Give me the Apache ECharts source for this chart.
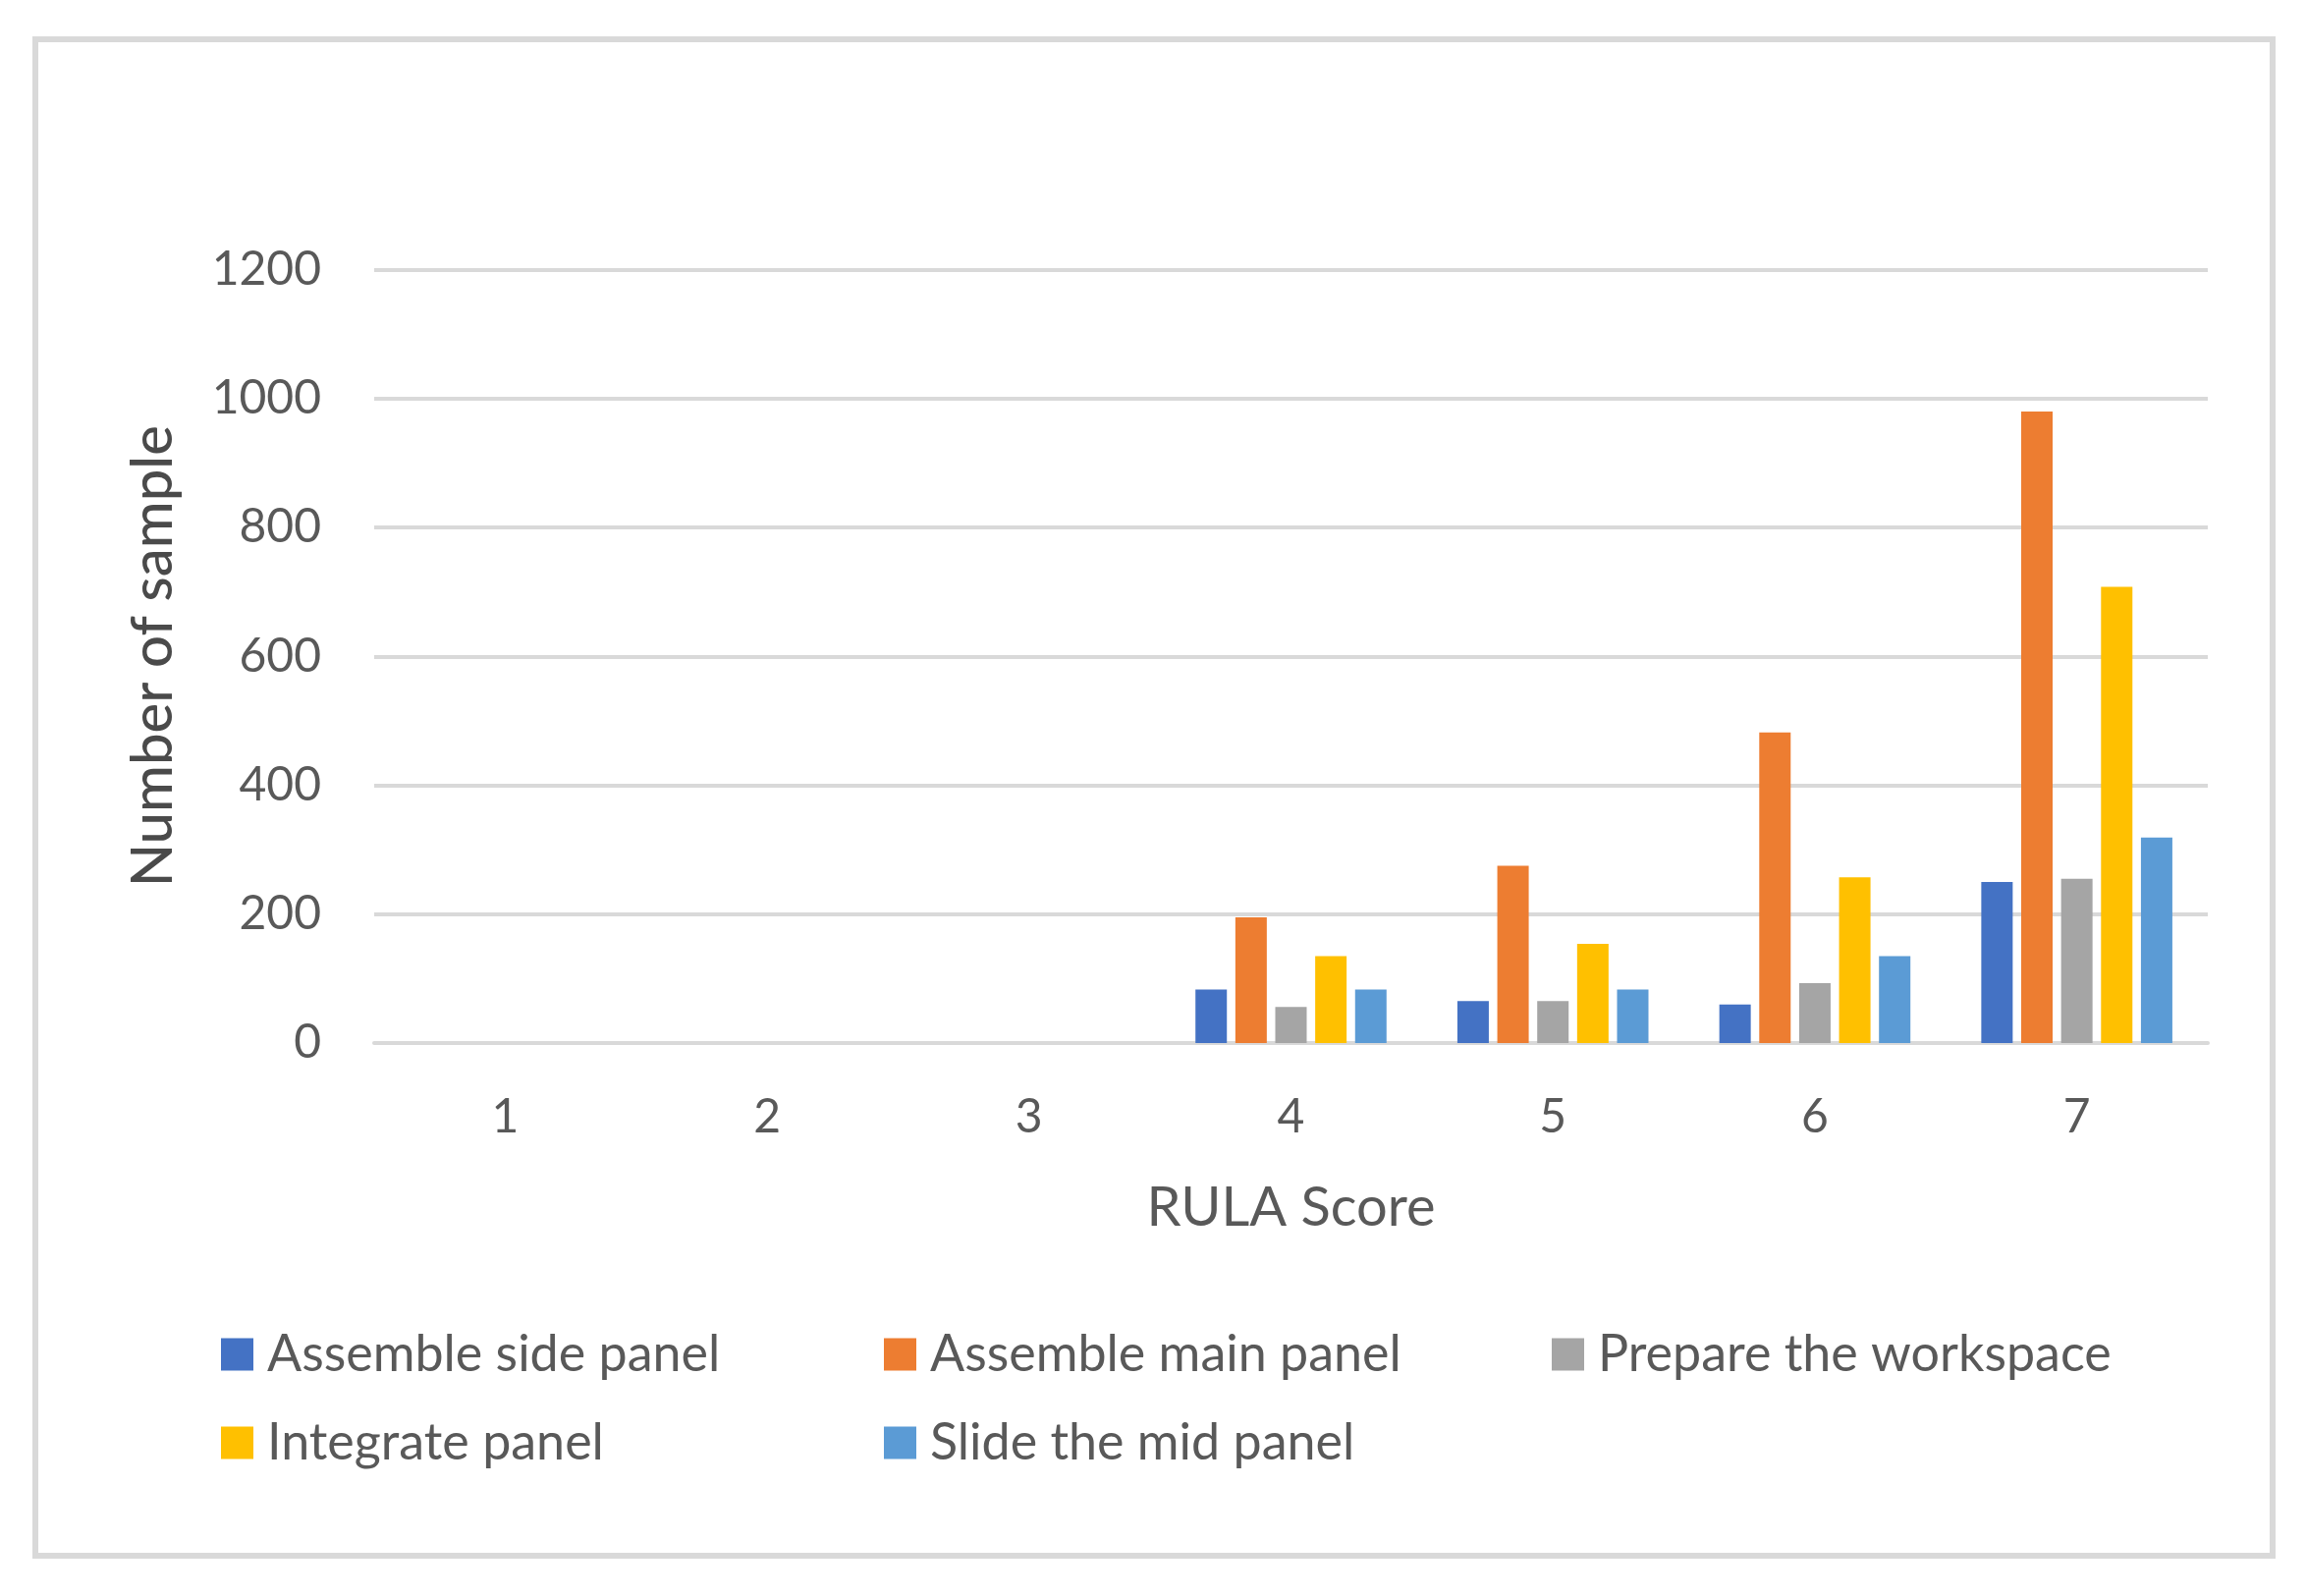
<!DOCTYPE html>
<html>
<head>
<meta charset="utf-8">
<script src="https://cdn.jsdelivr.net/npm/echarts@6/dist/echarts.min.js"></script>
<style>html,body{margin:0;padding:0;background:#fff}#c{width:2348px;height:1625px}</style>
</head>
<body>
<div id="c"></div>
<script>
const categories = ['1', '2', '3', '4', '5', '6', '7'];
const seriesNames = ['Assemble side panel', 'Assemble main panel', 'Prepare the workspace', 'Integrate panel', 'Slide the mid panel'];
const assembleSide = [0, 0, 0, 83, 65, 60, 250];
const assembleMain = [0, 0, 0, 195, 275, 482, 980];
const prepareWorkspace = [0, 0, 0, 56, 65, 93, 255];
const integratePanel = [0, 0, 0, 135, 154, 257, 708];
const slideMid = [0, 0, 0, 83, 83, 135, 319];
const yTicks = [0, 200, 400, 600, 800, 1000, 1200];
const colors = ['#4472C4', '#ED7D31', '#A5A5A5', '#FFC000', '#5B9BD5'];

const FONT = 'Lato';
const TXT = '#595959';
const values = [assembleSide, assembleMain, prepareWorkspace, integratePanel, slideMid];

const legendCommon = {
  orient: 'vertical',
  padding: 0,
  itemWidth: 33,
  itemHeight: 33,
  itemGap: 38,
  icon: 'rect',
  top: 1353,
  textStyle: { fontFamily: FONT, fontSize: 52, color: TXT, padding: [0, 0, 0, 9] }
};

const chart = echarts.init(document.getElementById('c'));
chart.setOption({
  animation: false,
  backgroundColor: '#ffffff',
  color: colors,
  graphic: [{
    type: 'rect',
    shape: { x: 36, y: 40, width: 2278, height: 1544 },
    style: { fill: 'none', stroke: '#d9d9d9', lineWidth: 6 },
    silent: true
  }],
  grid: { left: 381, right: 100, top: 274.5, bottom: 563, containLabel: false },
  legend: [
    Object.assign({}, legendCommon, { left: 225, data: [seriesNames[0], seriesNames[3]] }),
    Object.assign({}, legendCommon, { left: 900, data: [seriesNames[1], seriesNames[4]] }),
    Object.assign({}, legendCommon, { left: 1580, data: [seriesNames[2]] })
  ],
  xAxis: {
    type: 'category',
    data: categories,
    name: 'RULA Score',
    nameLocation: 'middle',
    nameGap: 140,
    nameTextStyle: { fontFamily: FONT, fontSize: 56, color: TXT },
    axisLine: { show: true, lineStyle: { color: '#d9d9d9', width: 4 } },
    axisTick: { show: false },
    axisLabel: { fontFamily: FONT, fontSize: 48, color: TXT, margin: 52 }
  },
  yAxis: {
    type: 'value',
    min: yTicks[0],
    max: yTicks[yTicks.length - 1],
    interval: 200,
    name: 'Number of sample',
    nameLocation: 'middle',
    nameGap: 196,
    nameTextStyle: { fontFamily: FONT, fontSize: 58, color: '#4a4a4a', fontWeight: 500 },
    axisLine: { show: false },
    axisTick: { show: false },
    splitLine: { lineStyle: { color: '#d9d9d9', width: 4 } },
    axisLabel: { fontFamily: FONT, fontSize: 48, color: TXT, margin: 54, formatter: v => String(v) }
  },
  series: seriesNames.map((n, i) => ({
    name: n,
    type: 'bar',
    data: values[i],
    barWidth: 32,
    barGap: '27%',
    itemStyle: { color: colors[i] }
  }))
});
</script>
</body>
</html>
